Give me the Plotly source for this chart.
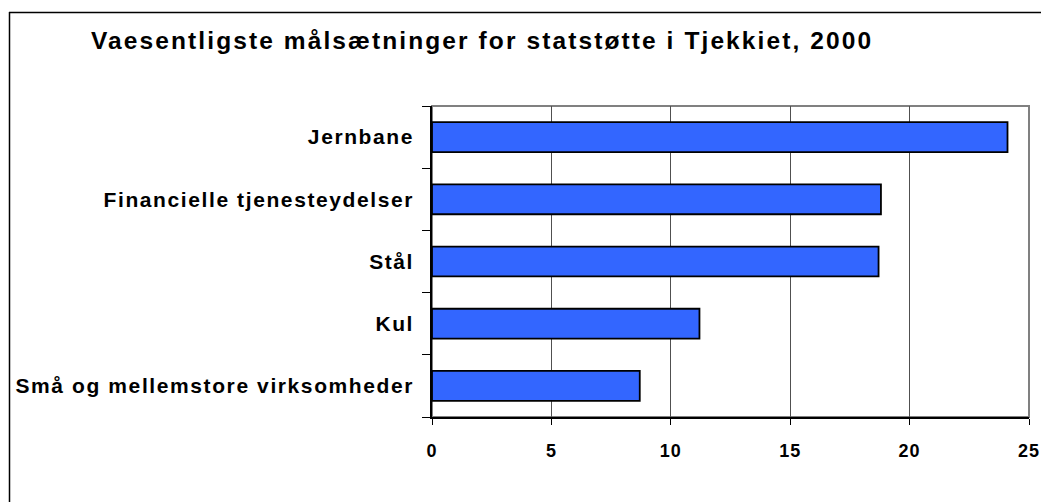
import plotly.graph_objects as go

categories = ["Små og mellemstore virksomheder", "Kul", "Stål", "Financielle tjenesteydelser", "Jernbane"]
values = [8.7, 11.2, 18.7, 18.8, 24.1]
x_ticks = [0, 5, 10, 15, 20, 25]
title_text = "Vaesentligste målsætninger for statstøtte i Tjekkiet, 2000"

W, H = 1041, 502
L, R, T, B = 432, 12, 106, 85
pw, ph = W - L - R, H - T - B

def px_x(p):
    return (p - L) / pw

def px_y(p):
    return 1 - (p - T) / ph

fig = go.Figure(go.Bar(
    x=values, y=categories, orientation="h",
    marker=dict(color="#3366FF", line=dict(color="black", width=1.8)),
    width=0.48,
))

font_family = "Liberation Sans, Arial, sans-serif"

fig.update_layout(
    width=W, height=H,
    margin=dict(l=L, r=R, t=T, b=B, autoexpand=False),
    paper_bgcolor="white", plot_bgcolor="white",
    showlegend=False,
    font=dict(family=font_family, color="black"),
    title=dict(text="<b>" + title_text + "</b>", x=91 / W, xanchor="left",
               y=1 - 40 / H, yanchor="middle",
               font=dict(size=24.5, family=font_family, color="black")),
    xaxis=dict(range=[0, 25], tickvals=x_ticks, ticktext=["<b>%d</b>" % v for v in x_ticks],
               showgrid=True, gridcolor="#505050", gridwidth=1,
               showline=True, linecolor="black", linewidth=1.5,
               ticks="outside", ticklen=6, tickcolor="black",
               tickfont=dict(size=18, family=font_family, color="black"),
               ticklabelstandoff=11, zeroline=False, fixedrange=True, automargin=False),
    yaxis=dict(categoryorder="array", categoryarray=categories,
               tickvals=categories, ticktext=["<b>%s</b>" % c for c in categories],
               showline=True, linecolor="black", linewidth=1.5,
               ticks="outside", ticklen=8, tickcolor="black", tickson="boundaries",
               tickfont=dict(size=21, family=font_family, color="black"),
               ticklabelstandoff=12, showgrid=False, fixedrange=True, automargin=False),
    shapes=[
        dict(type="rect", xref="paper", yref="paper", x0=0, x1=1, y0=0, y1=1,
             line=dict(color="#808080", width=2), layer="below"),
        dict(type="line", xref="paper", yref="paper",
             x0=px_x(9.5), x1=px_x(9.5), y0=px_y(H), y1=px_y(12),
             line=dict(color="black", width=1.5), layer="below"),
        dict(type="line", xref="paper", yref="paper",
             x0=px_x(9), x1=px_x(W), y0=px_y(12.5), y1=px_y(12.5),
             line=dict(color="black", width=1.5), layer="below"),
    ],
)

post_js = """
document.body.style.margin = '0';
document.body.style.overflow = 'hidden';
var gd = document.getElementById('{plot_id}');
gd.querySelectorAll('.ytick text').forEach(function(t){ t.style.letterSpacing = '1.6px'; });
gd.querySelectorAll('.xtick text').forEach(function(t){ t.style.letterSpacing = '1px'; });
gd.querySelectorAll('.gtitle').forEach(function(t){ t.style.letterSpacing = '2.1px'; });
"""

fig.write_html("out.html", post_script=post_js, config={"displayModeBar": False})
